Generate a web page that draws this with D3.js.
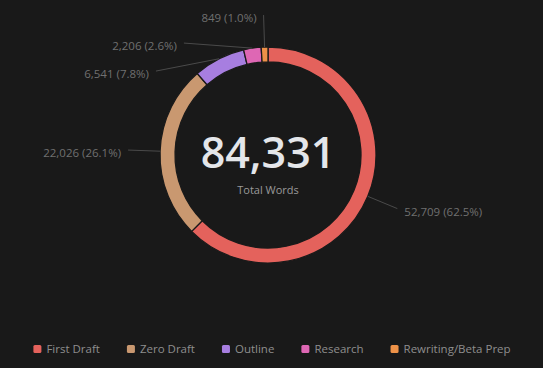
<!DOCTYPE html>
<html>
<head>
<meta charset="utf-8">
<script src="https://cdn.jsdelivr.net/npm/d3@7"></script>
<style>
  html, body { margin: 0; padding: 0; background: #191919; }
  svg { display: block; font-family: "Open Sans", "Noto Sans", sans-serif; }
</style>
</head>
<body>
<div id="chart"></div>
<script>
var categories = ["First Draft", "Zero Draft", "Outline", "Research", "Rewriting/Beta Prep"];
var words = [52709, 22026, 6541, 2206, 849];
var colors = ["#e4625c", "#c99870", "#a77ee0", "#de67b4", "#ee9248"];
var centerLabel = "Total Words";

var width = 543,
    height = 368,
    cx = 268, cy = 155,
    outerR = 108, innerR = 93,
    labelR = 140, labelGap = 28;

var fmt = d3.format(","),
    total = d3.sum(words);

var svg = d3.select("#chart").append("svg")
  .attr("width", width)
  .attr("height", height);

svg.append("rect")
  .attr("width", width)
  .attr("height", height)
  .attr("fill", "#191919");

var pie = d3.pie().sort(null).value(function(d) { return d; });
var arc = d3.arc().innerRadius(innerR).outerRadius(outerR);
var arcs = pie(words);

var g = svg.append("g").attr("transform", "translate(" + [cx, cy] + ")");

g.selectAll("path.slice")
  .data(arcs)
  .enter().append("path")
  .attr("class", "slice")
  .attr("d", arc)
  .attr("fill", function(d, i) { return colors[i]; })
  .attr("stroke", "#1a1a1a")
  .attr("stroke-width", 1.3);

// label layout: radial position, then push apart on the left side going down from the top
var labels = arcs.map(function(d, i) {
  var a = (d.startAngle + d.endAngle) / 2;
  return {
    i: i, a: a,
    sx: Math.sin(a) * outerR, sy: -Math.cos(a) * outerR,
    x: Math.sin(a) * labelR, y: -Math.cos(a) * labelR,
    right: Math.sin(a) >= 0
  };
});

var left = labels.filter(function(l) { return !l.right; })
  .sort(function(a, b) { return a.y - b.y; });
var prev = null;
left.forEach(function(l) {
  if (prev && l.y < prev.y + labelGap) {
    l.y = prev.y + labelGap;
    l.x = -Math.sqrt(Math.max(0, labelR * labelR - l.y * l.y));
  }
  prev = l;
});

g.selectAll("line.leader")
  .data(labels)
  .enter().append("line")
  .attr("class", "leader")
  .attr("x1", function(l) { return l.sx; })
  .attr("y1", function(l) { return l.sy; })
  .attr("x2", function(l) { return l.x; })
  .attr("y2", function(l) { return l.y; })
  .attr("stroke", "#4a4a4a")
  .attr("stroke-width", 1);

g.selectAll("text.outlabel")
  .data(labels)
  .enter().append("text")
  .attr("class", "outlabel")
  .attr("x", function(l) { return l.right ? l.x + 7 : l.x - 7; })
  .attr("y", function(l) { return l.y + 3; })
  .attr("dy", "0.35em")
  .attr("text-anchor", function(l) { return l.right ? "start" : "end"; })
  .attr("fill", "#707070")
  .style("font-size", "11.5px")
  .text(function(l) {
    return fmt(words[l.i]) + " (" + d3.format(".1%")(words[l.i] / total) + ")";
  });

// center text
g.append("text")
  .attr("text-anchor", "middle")
  .attr("y", 13)
  .attr("fill", "#e4e6ea")
  .style("font-size", "43px")
  .style("font-weight", "600")
  .text(fmt(total));

g.append("text")
  .attr("text-anchor", "middle")
  .attr("y", 39)
  .attr("fill", "#9a9a9a")
  .style("font-size", "11px")
  .text(centerLabel);

// legend
var legend = svg.append("g").attr("class", "legend");
var items = legend.selectAll("g.item")
  .data(categories)
  .enter().append("g")
  .attr("class", "item");

items.append("rect")
  .attr("y", -4)
  .attr("width", 8)
  .attr("height", 8)
  .attr("rx", 1.5)
  .attr("fill", function(d, i) { return colors[i]; });

items.append("text")
  .attr("x", 13)
  .attr("dy", "0.35em")
  .attr("fill", "#8e8e8e")
  .style("font-size", "11.5px")
  .text(function(d) { return d; });

var xPos = 0;
items.each(function() {
  var w = this.getBBox().width;
  d3.select(this).attr("transform", "translate(" + xPos + ",0)");
  xPos += w + 27;
});
var legendW = xPos - 27;
legend.attr("transform", "translate(" + (272 - legendW / 2) + ",349)");
</script>
</body>
</html>
